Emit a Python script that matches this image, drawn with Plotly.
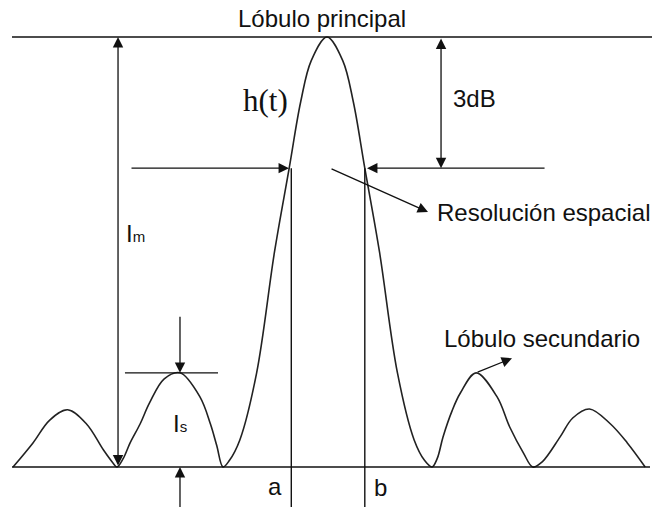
import plotly.graph_objects as go

# point spread function h(t) (t in lobe widths, amplitude normalised)
t_vals = [-2.99, -2.8, -2.64, -2.47, -2.29, -2.13, -2.04, -2.0,
          -1.94, -1.875, -1.78, -1.69, -1.55, -1.4, -1.21, -1.11, -1.05, -0.99,
          -0.93, -0.83, -0.67, -0.5, -0.36, -0.25, -0.15, 0.0,
          0.15, 0.25, 0.36, 0.5, 0.67, 0.83, 0.93, 1.0,
          1.05, 1.105, 1.19, 1.27, 1.42, 1.62, 1.74, 1.87, 1.96,
          2.05, 2.22, 2.34, 2.5, 2.7, 2.86, 3.03]
h_vals = [0.0, 0.056, 0.109, 0.133, 0.10, 0.04, 0.01, 0.0,
          0.02, 0.056, 0.10, 0.149, 0.205, 0.219, 0.163, 0.10, 0.05, 0.0,
          0.015, 0.063, 0.219, 0.5, 0.695, 0.85, 0.945, 1.0,
          0.945, 0.85, 0.695, 0.5, 0.22, 0.063, 0.015, 0.0,
          0.02, 0.07, 0.13, 0.172, 0.219, 0.163, 0.093, 0.033, 0.0,
          0.012, 0.07, 0.114, 0.135, 0.10, 0.056, 0.0]

# reference levels
peak_level = 1.0
level_3db = 0.695
side_level = 0.219
t_a, t_b = -0.34, 0.36
t_side = -1.4
t_im = -1.99
t_3db = 1.086

ink = "#111111"
sans = "Liberation Sans, Arial, sans-serif"

fig = go.Figure()
fig.add_trace(go.Scatter(
    x=t_vals, y=h_vals, mode="lines", line_shape="spline",
    line=dict(color="#222222", width=1.6), hoverinfo="skip", showlegend=False,
))

def hline(x0, x1, y):
    fig.add_shape(type="line", x0=x0, x1=x1, y0=y, y1=y, xref="x", yref="y",
                  line=dict(color=ink, width=1.4))

def vline(x, y0, y1):
    fig.add_shape(type="line", x0=x, x1=x, y0=y0, y1=y1, xref="x", yref="y",
                  line=dict(color=ink, width=1.4))

def arrow(x, y, ax, ay, both=False):
    fig.add_annotation(x=x, y=y, ax=ax, ay=ay, xref="x", yref="y", axref="x", ayref="y",
                       text="", showarrow=True, arrowhead=2, arrowsize=1.6, arrowwidth=1.3,
                       arrowcolor=ink, arrowside="end+start" if both else "end",
                       startarrowhead=2, startarrowsize=1.6, standoff=0, startstandoff=0)

def label(x, y, s, size=24, family=sans, xanchor="center"):
    fig.add_annotation(x=x, y=y, xref="x", yref="y", text=s, showarrow=False,
                       xanchor=xanchor, font=dict(family=family, size=size, color=ink))

# top and base lines
hline(-3.0, 3.1, peak_level)
hline(-3.0, 3.076, 0.0)

# 3 dB width arrows
arrow(-0.362, level_3db, -1.876, level_3db)
arrow(0.381, level_3db, 2.086, level_3db)
vline(t_a, level_3db, -0.1)
vline(t_b, level_3db, -0.1)

# Im and 3dB double arrows
arrow(t_im, peak_level, t_im, 0.0, both=True)
arrow(t_3db, level_3db, t_3db, peak_level, both=True)

# Is marks
hline(-1.924, -1.038, side_level)
arrow(t_side, side_level, t_side, 0.353)
arrow(t_side, 0.0, t_side, -0.1)

# pointers
arrow(0.962, 0.593, 0.029, level_3db)
arrow(1.762, 0.253, 1.42, side_level)

# texts
label(-0.048, 1.044, "Lóbulo principal")
label(-0.59, 0.853, "h(t)", size=31, family="Liberation Serif, Times New Roman, serif")
label(1.40, 0.858, "3dB")
label(1.03, 0.593, "Resolución espacial", xanchor="left")
label(-1.82, 0.544, "I<span style='font-size:15px'>m</span>")
label(t_side, 0.102, "I<span style='font-size:15px'>s</span>")
label(2.05, 0.30, "Lóbulo secundario")
label(-0.495, -0.045, "a")
label(0.505, -0.047, "b")

fig.update_xaxes(range=[-3.114, 3.095], visible=False)
fig.update_yaxes(range=[-0.093, 1.086], visible=False)
fig.update_layout(
    width=652, height=507,
    margin=dict(l=0, r=0, t=0, b=0),
    paper_bgcolor="white", plot_bgcolor="white",
)

fig.write_html("out.html", config={"displayModeBar": False},
               post_script="document.body.style.margin='0';")
